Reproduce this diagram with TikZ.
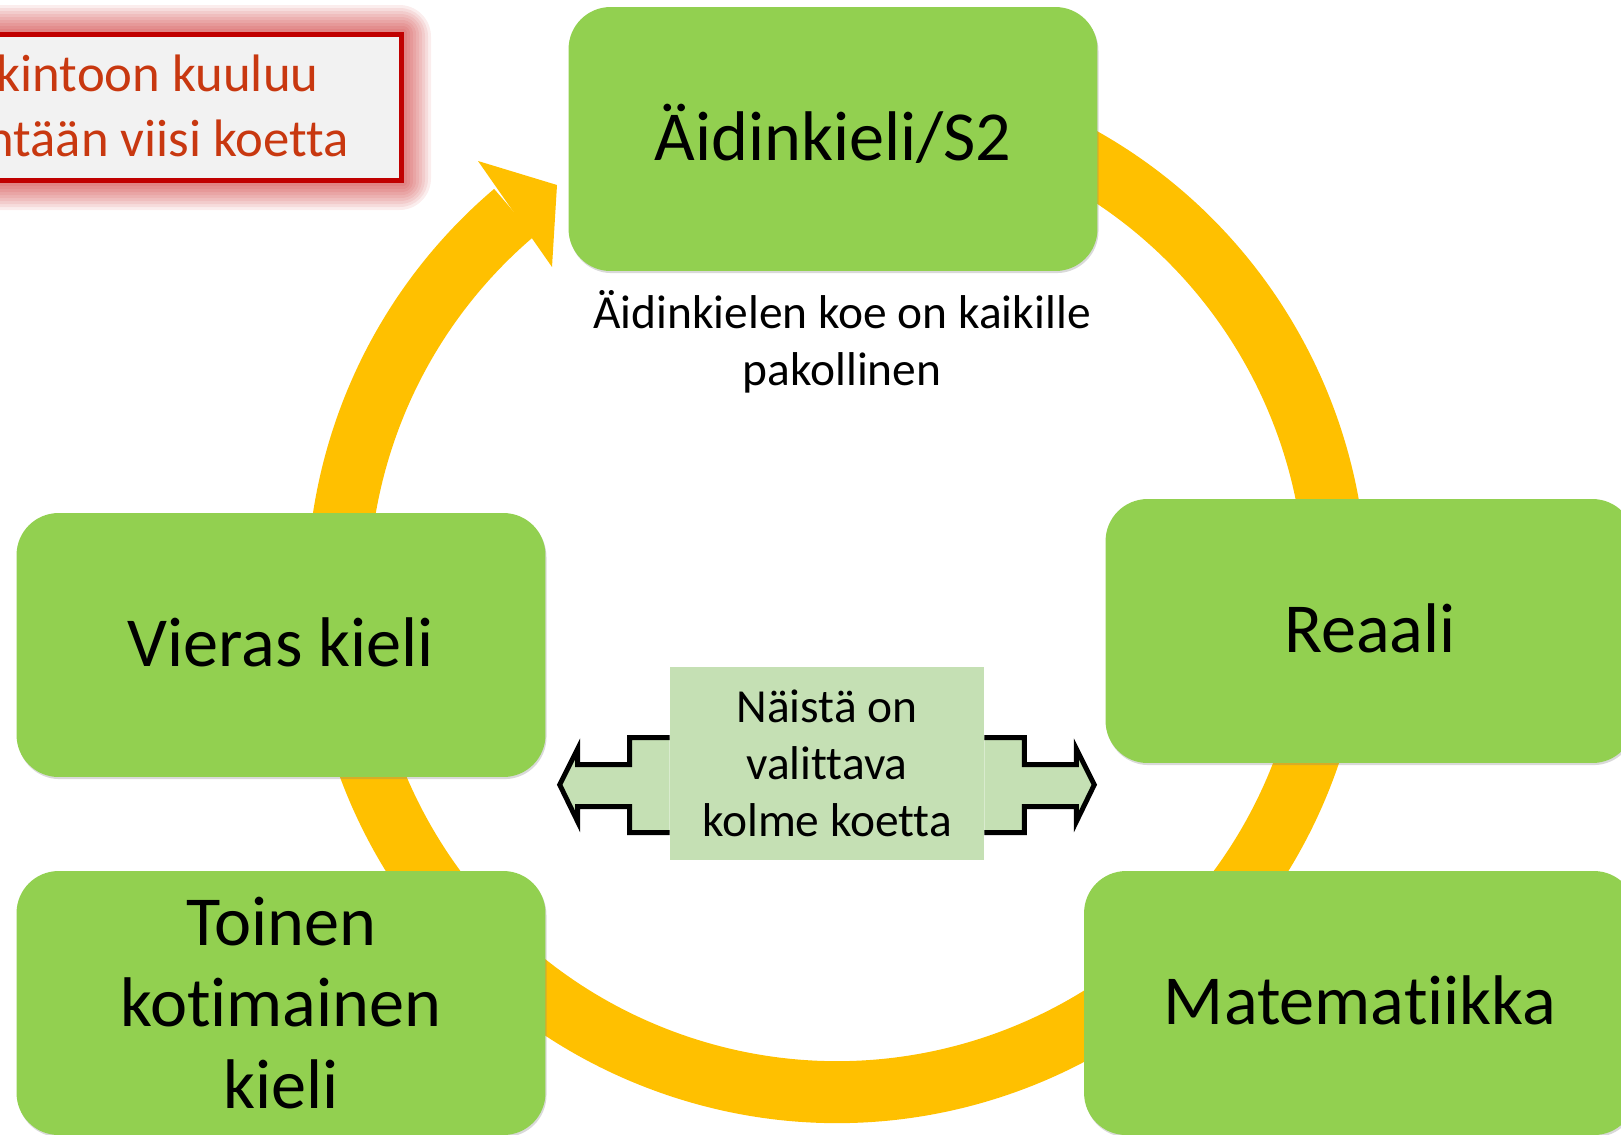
\documentclass[tikz,border=0pt]{standalone}
\usepackage{fontspec}
\setmainfont{Carlito}[Ligatures={NoCommon}]
\usetikzlibrary{calc}
\usetikzlibrary{shadows}

\definecolor{subjgreen}{HTML}{92D050}
\definecolor{choicegreen}{HTML}{C5E0B4}
\definecolor{ringyellow}{HTML}{FFC000}
\definecolor{goalred}{HTML}{C00000}
\definecolor{goalink}{RGB}{200,56,16}
\definecolor{goalfill}{HTML}{F2F2F2}

\tikzset{
	subject/.style={fill=subjgreen, rounded corners=0.84cm, minimum width=10.58cm, minimum height=5.28cm,
		inner sep=0pt, align=center, font=\fontsize{40}{46.6}\selectfont,
		drop shadow={opacity=0.3, shadow xshift=0.6pt, shadow yshift=-1.2pt}},
	oneline/.style={text height=25pt, text depth=0pt},
	ring/.style={draw=ringyellow, line width=1.24cm},
	choicebox/.style={fill=choicegreen, minimum width=6.28cm, minimum height=3.86cm, inner sep=0pt,
		align=center, font=\fontsize{27}{32.5}\selectfont},
	choicearm/.style={draw=black, line width=2.8pt, miter limit=20},
	goalbox/.style={draw=goalred, line width=2.85pt, fill=goalfill, minimum width=11.83cm, minimum height=2.92cm},
	goalglow/.style={fill=goalred, opacity=0.07}
}

\begin{document}
\begin{tikzpicture}[x=0.02cm, y=0.02cm]
		\useasboundingbox (0,0) rectangle (1621,-1134);
		\clip (0,0) rectangle (1621,-1134);

		% the cycle
		\draw[ring] (837,-593) ++(70:499) arc[start angle=70, end angle=-229.7, radius=499];
		\fill[ringyellow] (478,-161) -- (557,-185) -- (552,-267) -- cycle;

		\node[subject, oneline] (aidin) at (833,-139) {Äidinkieli/S2};
		\node[align=center, font=\fontsize{27}{32.5}\selectfont] (aidin_note) at (842,-342) {Äidinkielen koe on kaikille\\pakollinen};

		\node[subject, oneline] (vieras) at (281,-645) {Vieras kieli};
		\node[subject, oneline] (reaali) at (1370,-631) {Reaali};
		\node[subject] (toinen) at (281,-1003) {Toinen\\kotimainen\\kieli};
		\node[subject, oneline, minimum width=11.04cm] (matikka) at (1360,-1003) {Matematiikka};

		% choose three
		\node[choicebox] (choice) at (827,-763.5) {Näistä on\\valittava\\kolme koetta};
		\foreach \side/\dir in {north west/1, north east/-1} {
			\begin{scope}[shift={(choice.\side)}, xscale=\dir]
				\fill[choicegreen] (0,-71) -- (-40,-71) -- (-40,-98) -- (-92,-98) -- (-92,-82) -- (-110,-118)
					-- (-92,-155) -- (-92,-140) -- (-40,-140) -- (-40,-166) -- (0,-166) -- cycle;
				\draw[choicearm] (0,-71) -- (-40,-71) -- (-40,-98) -- (-92,-98) -- (-92,-82) -- (-110,-118)
					-- (-92,-155) -- (-92,-140) -- (-40,-140) -- (-40,-166) -- (0,-166);
			\end{scope}
		}

		% goal box with glow
		\foreach \g in {1,...,9}
			\fill[goalglow, rounded corners=\g*2pt] (-190-\g*3,-32+\g*3) rectangle (404+\g*3,-183-\g*3);
		\node[goalbox] (goal) at (106,-107.5) {};
		\node[anchor=east, align=right, inner sep=0pt, text=goalink, font=\fontsize{30}{37}\selectfont] (goal_text)
			at ($(goal.east)+(-55.5,2)$) {kintoon kuuluu\rule{17pt}{0pt}\\ntään viisi koetta};

\end{tikzpicture}
\end{document}
